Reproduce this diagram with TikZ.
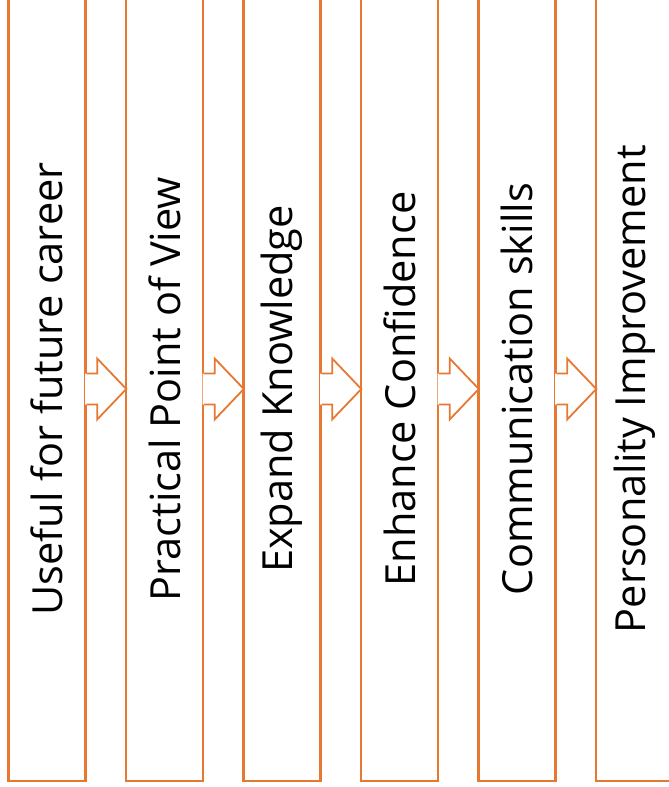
\documentclass[tikz,border=0pt]{standalone}
\usepackage{fontspec}
\setmainfont{Open Sans}
\usepackage{xcolor}
\usetikzlibrary{calc}
\definecolor{steporange}{HTML}{E67832}

\begin{document}
\begin{tikzpicture}[x=1pt,y=-1pt,
box/.style={draw=steporange,line width=2.4pt,fill=white,inner sep=0pt,minimum width=77pt,minimum height=784.5pt,font=\fontsize{41.5}{50}\selectfont},
blockarrow/.style={draw=steporange,line width=1.8pt,line join=miter}]
\useasboundingbox (0,0) rectangle (669,787);
\clip (0,0) rectangle (669,787);
\node[box] (career) at (47,389) {\rotatebox{90}{Useful for future career}};
\node[box] (practical) at (164.5,389) {\rotatebox{90}{Practical Point of View}};
\node[box] (knowledge) at (282,389) {\rotatebox{90}{Expand Knowledge}};
\node[box] (confidence) at (399.5,389) {\rotatebox{90}{Enhance Confidence}};
\node[box] (communication) at (517,389) {\rotatebox{90}{Communication skills}};
\node[box] (personality) at (634.5,389) {\rotatebox{90}{Personality Improvement}};
% hollow arrows between the steps
\foreach \a/\b in {career/practical,practical/knowledge,knowledge/confidence,confidence/communication,communication/personality}{
  \fill[white] ($(\a.east)+(-1.5,-15.5)$) -- ($(\a.east)+(10.5,-15.5)$) -- ($(\a.east)+(10.5,-30.5)$) -- ($(\b.west)+(1.5,0)$) -- ($(\a.east)+(10.5,30.5)$) -- ($(\a.east)+(10.5,15.5)$) -- ($(\a.east)+(-1.5,15.5)$) -- cycle;
  \draw[blockarrow] ($(\a.east)+(0,-15.5)$) -- ++(10.5,0) -- ++(0,-15) -- ($(\b.west)+(1.5,0)$) -- ($(\a.east)+(10.5,30.5)$) -- ++(0,-15) -- ($(\a.east)+(0,15.5)$);
}
\end{tikzpicture}
\end{document}
